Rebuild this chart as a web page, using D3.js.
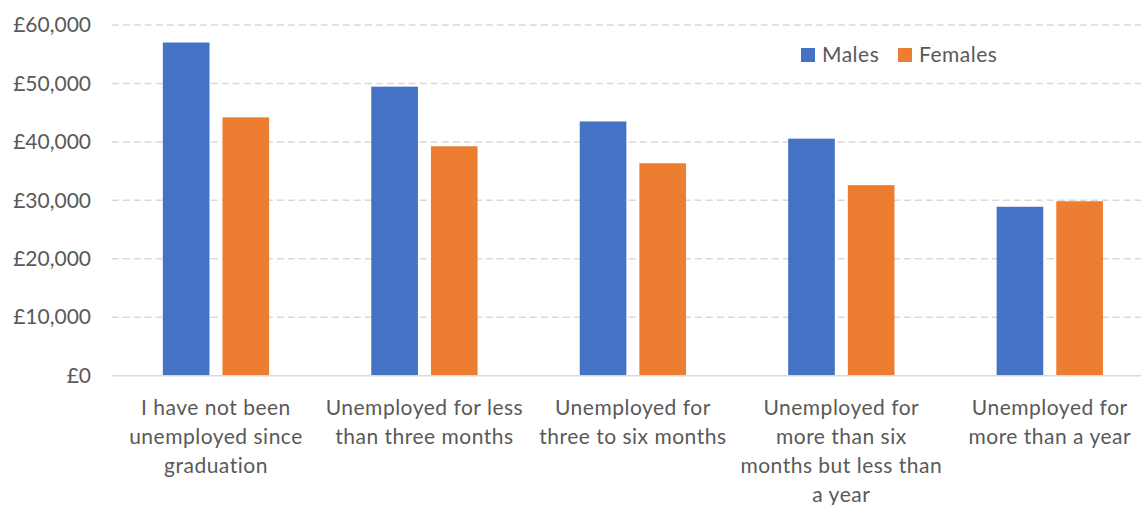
<!DOCTYPE html>
<html>
<head>
<meta charset="utf-8">
<script src="https://cdn.jsdelivr.net/npm/d3@7"></script>
<style>
  html, body { margin: 0; padding: 0; background: #fff; }
  svg { display: block; }
  text { font-family: Lato, "Open Sans", sans-serif; fill: #595959; }
</style>
</head>
<body>
<svg id="chart" width="1141" height="505"></svg>
<script>
const categories = [
  "I have not been\nunemployed since\ngraduation",
  "Unemployed for less\nthan three months",
  "Unemployed for\nthree to six months",
  "Unemployed for\nmore than six\nmonths but less than\na year",
  "Unemployed for\nmore than a year"
];
const seriesNames = ["Males", "Females"];
const males   = [57000, 49450, 43500, 40550, 28900];
const females = [44200, 39250, 36350, 32600, 29850];
const yTicks  = [0, 10000, 20000, 30000, 40000, 50000, 60000];
const colors  = ["#4472C4", "#ED7D31"];

const svg = d3.select("#chart");
const mLeft = 111.75, mRight = 1154, mTop = 25, mBottom = 375.7;

const x0 = d3.scaleBand().domain(d3.range(categories.length)).range([mLeft, mRight]).paddingInner(0.49).paddingOuter(0.245);
const x1 = d3.scaleBand().domain(seriesNames).range([0, x0.bandwidth()]).paddingInner(0.218);
const y = d3.scaleLinear().domain([0, 60000]).range([mBottom, mTop]);

// gridlines
svg.append("g").selectAll("line").data(yTicks.filter(d => d > 0)).join("line")
  .attr("x1", mLeft).attr("x2", mRight)
  .attr("y1", d => y(d)).attr("y2", d => y(d))
  .attr("stroke", "#d9d9d9").attr("stroke-width", 1.5)
  .attr("stroke-dasharray", "7,4");

// y axis labels
const fmt = d => "£" + d3.format(",")(d);
const yAxis = d3.axisLeft(y).tickValues(yTicks).tickFormat(fmt).tickSize(0).tickPadding(0);
const yg = svg.append("g").attr("transform", `translate(${91},0)`).call(yAxis);
yg.select(".domain").remove();
yg.selectAll("text").attr("font-size", 21).attr("fill", "#595959")
  .style("font-family", "Lato, 'Open Sans', sans-serif");

// bars
const data = categories.map((c, i) => ({i, vals: [males[i], females[i]]}));
const groups = svg.append("g").selectAll("g").data(data).join("g")
  .attr("transform", d => `translate(${x0(d.i)},0)`);
groups.selectAll("rect").data(d => d.vals.map((v, k) => ({k, v}))).join("rect")
  .attr("x", d => x1(seriesNames[d.k]))
  .attr("width", x1.bandwidth())
  .attr("y", d => y(d.v))
  .attr("height", d => y(0) - y(d.v))
  .attr("fill", d => colors[d.k]);

// baseline
svg.append("line").attr("x1", mLeft).attr("x2", mRight)
  .attr("y1", y(0)).attr("y2", y(0))
  .attr("stroke", "#d9d9d9").attr("stroke-width", 1.5);

// x labels
const xl = svg.append("g").selectAll("text").data(categories).join("text")
  .attr("x", (d, i) => x0(i) + x0.bandwidth() / 2)
  .attr("y", 415)
  .attr("text-anchor", "middle")
  .attr("font-size", 21)
  .attr("letter-spacing", 0.5);
xl.selectAll("tspan").data(d => d.split("\n")).join("tspan")
  .attr("x", function() { return d3.select(this.parentNode).attr("x"); })
  .attr("dy", (d, j) => j === 0 ? 0 : 29)
  .text(d => d);

// legend
const lg = svg.append("g").selectAll("g").data(seriesNames).join("g")
  .attr("transform", (d, i) => `translate(${i === 0 ? 801 : 898},48)`);
lg.append("rect").attr("width", 14).attr("height", 14).attr("fill", (d, i) => colors[i]);
lg.append("text").attr("x", 21).attr("y", 14).attr("font-size", 21)
  .attr("letter-spacing", 0.5).text(d => d);
</script>
</body>
</html>
